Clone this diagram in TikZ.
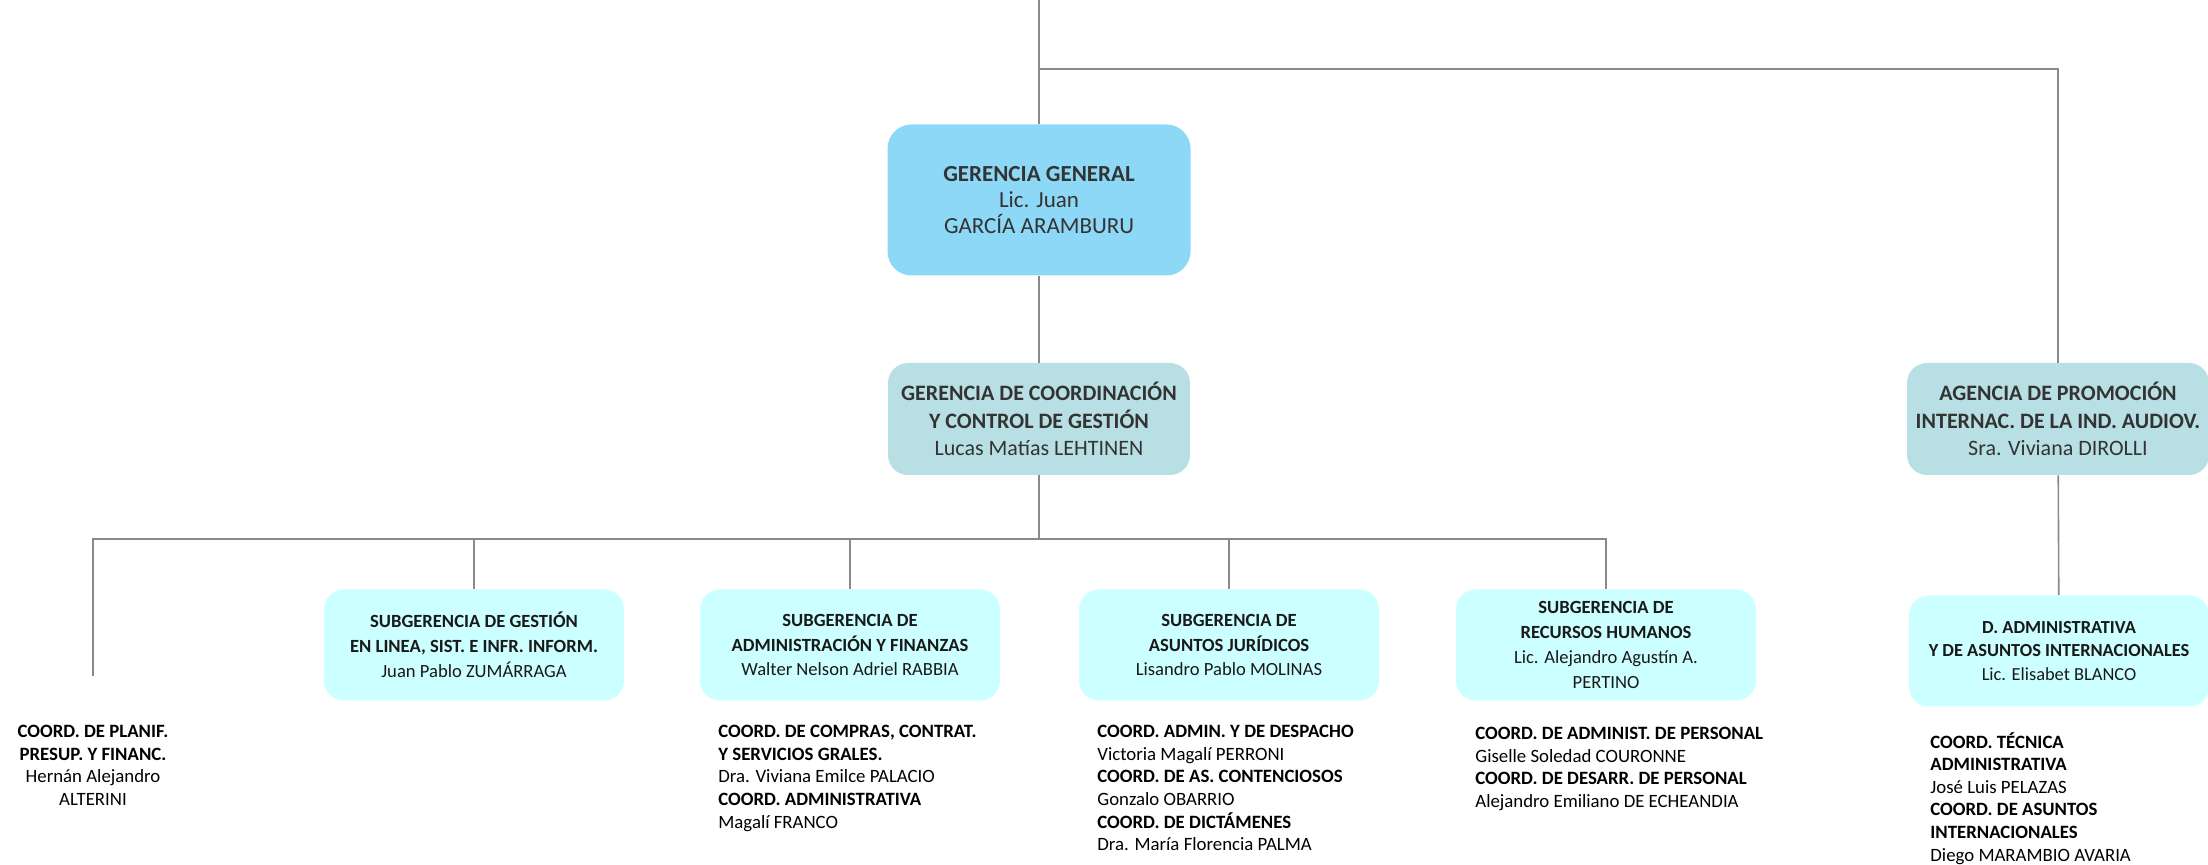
\documentclass[tikz,border=0pt]{standalone}
\usepackage{fontspec}
\setmainfont{Carlito}
\usetikzlibrary{positioning}

\definecolor{gerblue}{HTML}{8ED8F7}
\definecolor{gerteal}{HTML}{B8E0E4}
\definecolor{subcyan}{HTML}{CCFFFF}
\definecolor{linegray}{HTML}{8A8A8A}
\definecolor{textgray}{HTML}{333333}

\begin{document}
\begin{tikzpicture}[x=0.5pt, y=-0.5pt]
  % Define box, text and line styles
  \tikzstyle{boxgeneral} = [fill=gerblue, rounded corners=12pt, text=textgray,
  minimum width=151.5pt, minimum height=75.5pt, align=center,
  font=\fontsize{11.5}{13.2}\selectfont]
  \tikzstyle{boxgerencia} = [fill=gerteal, rounded corners=10pt, text=textgray,
  minimum width=151pt, minimum height=56pt, align=center,
  font=\fontsize{11}{13.6}\selectfont]
  \tikzstyle{boxsub} = [fill=subcyan, rounded corners=10pt, text=black!90,
  minimum width=150pt, minimum height=55.5pt, align=center,
  font=\fontsize{9.3}{12.4}\selectfont]
  \tikzstyle{coordtext} = [inner sep=0pt, text=black,
  font=\fontsize{9.4}{11.3}\selectfont]
  \tikzstyle{linkline} = [draw=linegray, line width=0.8pt]

  \useasboundingbox (0,0) rectangle (2208,865);

  % Top level
  \node [boxgeneral] (general) at (1039,200)
    {\textbf{GERENCIA GENERAL}\\Lic. Juan\\GARCÍA ARAMBURU};
  \node [boxgerencia] (coordinacion) at (1039,419)
    {\textbf{GERENCIA DE COORDINACIÓN}\\\textbf{Y CONTROL DE GESTIÓN}\\Lucas Matías LEHTINEN};
  \node [boxgerencia] (agencia) at (2058,419)
    {\textbf{AGENCIA DE PROMOCIÓN}\\\textbf{INTERNAC. DE LA IND. AUDIOV.}\\Sra. Viviana DIROLLI};

  % Subgerencias
  \node [boxsub] (subgestion) at (474,645)
    {\textbf{SUBGERENCIA DE GESTIÓN}\\\textbf{EN LINEA, SIST. E INFR. INFORM.}\\Juan Pablo ZUMÁRRAGA};
  \node [boxsub] (subadmin) at (850,645)
    {\textbf{SUBGERENCIA DE}\\\textbf{ADMINISTRACIÓN Y FINANZAS}\\Walter Nelson Adriel RABBIA};
  \node [boxsub] (subjuridicos) at (1229,645)
    {\textbf{SUBGERENCIA DE}\\\textbf{ASUNTOS JURÍDICOS}\\Lisandro Pablo MOLINAS};
  \node [boxsub] (subrrhh) at (1606,645)
    {\textbf{SUBGERENCIA DE}\\\textbf{RECURSOS HUMANOS}\\Lic. Alejandro Agustín A.\\PERTINO};
  \node [boxsub, font=\fontsize{9.2}{11.6}\selectfont] (dadmin) at (2059,651)
    {\textbf{D. ADMINISTRATIVA}\\\textbf{Y DE ASUNTOS INTERNACIONALES}\\Lic. Elisabet BLANCO};

  % Coordinaciones
  \node [coordtext, anchor=north, align=center] (coordplanif) at (93,725)
    {\textbf{COORD. DE PLANIF.}\\\textbf{PRESUP. Y FINANC.}\\Hernán Alejandro\\ALTERINI};
  \node [coordtext, anchor=north west, align=left] (coordadmin) at (718,725)
    {\textbf{COORD. DE COMPRAS, CONTRAT.}\\\textbf{Y SERVICIOS GRALES.}\\Dra. Viviana Emilce PALACIO\\%
     \textbf{COORD. ADMINISTRATIVA}\\Magalí FRANCO};
  \node [coordtext, anchor=north west, align=left] (coordjuridicos) at (1097,725)
    {\textbf{COORD. ADMIN. Y DE DESPACHO}\\Victoria Magalí PERRONI\\%
     \textbf{COORD. DE AS. CONTENCIOSOS}\\Gonzalo OBARRIO\\%
     \textbf{COORD. DE DICTÁMENES}\\Dra. María Florencia PALMA};
  \node [coordtext, anchor=north west, align=left] (coordrrhh) at (1475,727)
    {\textbf{COORD. DE ADMINIST. DE PERSONAL}\\Giselle Soledad COURONNE\\%
     \textbf{COORD. DE DESARR. DE PERSONAL}\\Alejandro Emiliano DE ECHEANDIA};
  \node [coordtext, anchor=north west, align=left] (coorddadmin) at (1930,732)
    {\textbf{COORD. TÉCNICA}\\\textbf{ADMINISTRATIVA}\\José Luis PELAZAS\\%
     \textbf{COORD. DE ASUNTOS}\\\textbf{INTERNACIONALES}\\Diego MARAMBIO AVARIA};

  % Connectors
  \coordinate (top) at (1039,0);
  \coordinate (split) at (1039,69);
  \coordinate (bus) at (1039,539);
  \coordinate (planifend) at (93,676);
  \draw [linkline] (top) -- (general);
  \draw [linkline] (split) -| (agencia);
  \draw [linkline] (general) -- (coordinacion);
  \draw [linkline] (coordinacion) -- (bus);
  \draw [linkline] (bus) -| (planifend);
  \draw [linkline] (bus) -| (subgestion);
  \draw [linkline] (bus) -| (subadmin);
  \draw [linkline] (bus) -| (subjuridicos);
  \draw [linkline] (bus) -| (subrrhh);
  \draw [linkline] (agencia) -- (dadmin);
\end{tikzpicture}
\end{document}
